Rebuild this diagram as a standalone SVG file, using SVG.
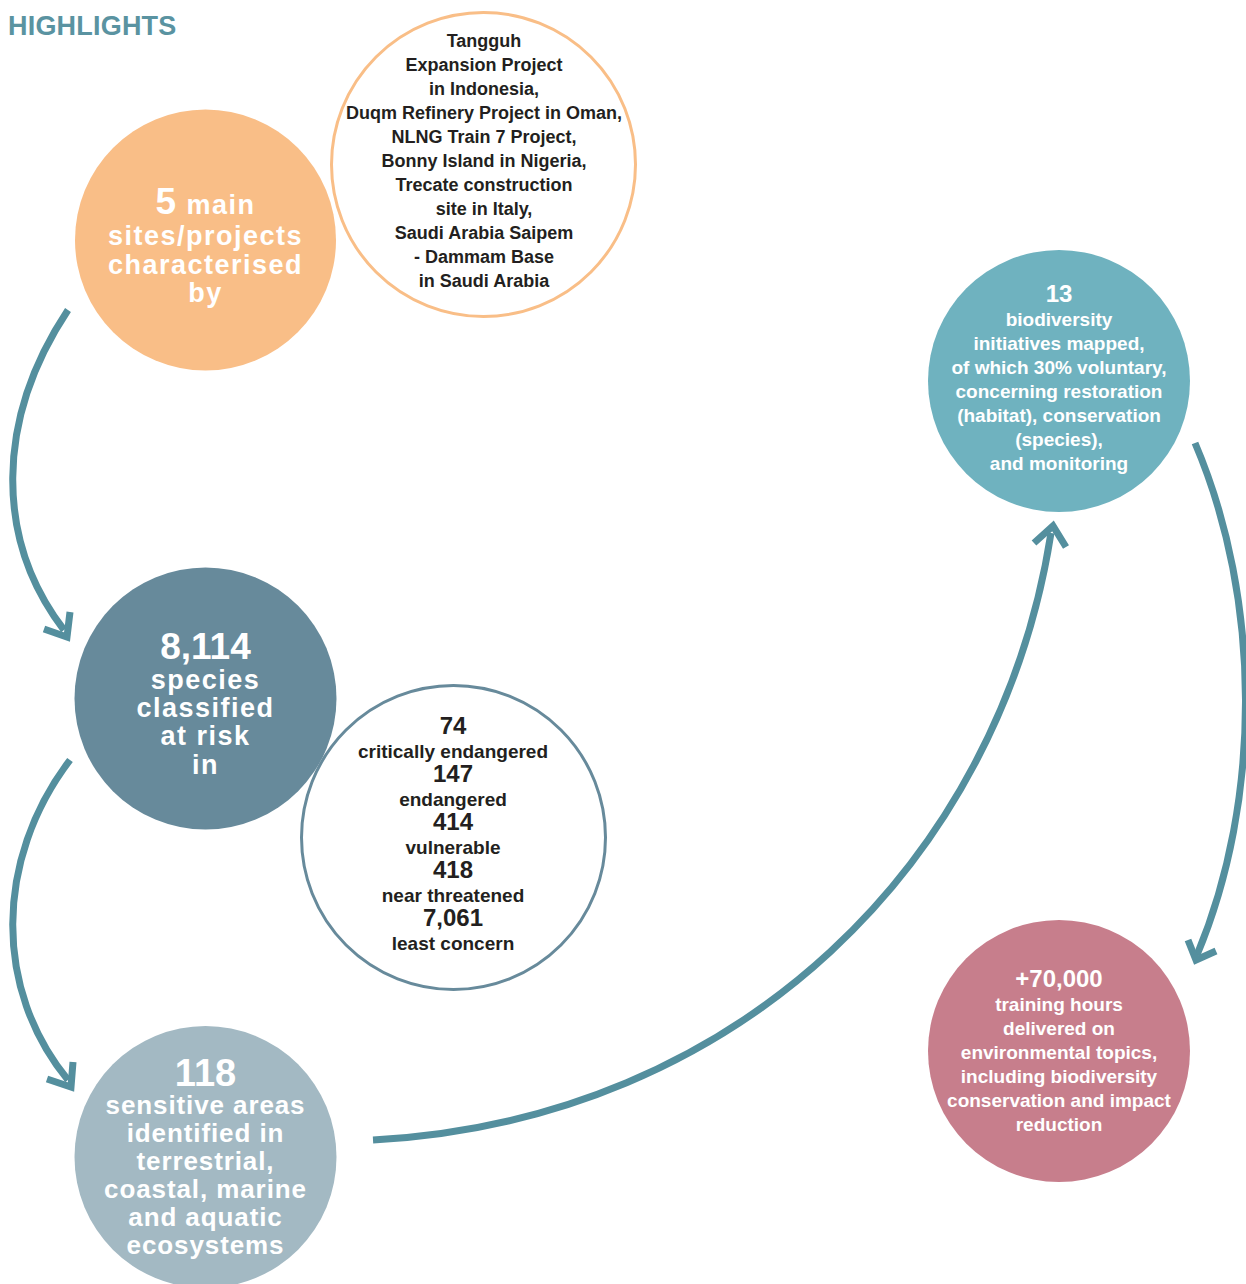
<svg xmlns="http://www.w3.org/2000/svg" width="1246" height="1284" viewBox="0 0 1246 1284">
<style>
text{font-family:"Liberation Sans",Arial,sans-serif;font-weight:bold;text-anchor:middle}
.title{font-size:27px;fill:#5A93A1;text-anchor:start;letter-spacing:0.2px}
.w{fill:#FFFFFF}
.k{fill:#231F20}
.big{font-size:37px}
.l27{font-size:27px;letter-spacing:1.5px}
.l26{font-size:26px;letter-spacing:0.9px}
.s19{font-size:19px}
.s18{font-size:18px}
.n24{font-size:24px}
.arrow{fill:none;stroke:#548F9E;stroke-width:7;stroke-linecap:butt;stroke-linejoin:miter}
</style>
<rect width="1246" height="1284" fill="#FFFFFF"/>
<text class="title" x="8" y="35">HIGHLIGHTS</text>

<g id="connectors">
<path class="arrow" d="M68,310 C-5,420 -5,540 64,630"/>
<polyline class="arrow" points="44,629 67,637 70,612"/>
<path class="arrow" d="M70,760 C-6,860 -6,990 68,1080"/>
<polyline class="arrow" points="47,1079 71,1087 73,1062"/>
<path class="arrow" d="M373,1140 C740,1120 1000,860 1051,533"/>
<polyline class="arrow" points="1034,543 1053,526 1066,547"/>
<path class="arrow" d="M1195,443 C1262,600 1262,800 1197,955"/>
<polyline class="arrow" points="1188,940 1196,960 1216,951"/>
</g>

<g id="node-sites">
<circle cx="205.5" cy="240" r="130.5" fill="#F9BE87"/>
<text class="w l27" x="205.5" y="214"><tspan class="big">5</tspan><tspan> main</tspan></text>
<text class="w l27" x="205.5" y="245">sites/projects</text>
<text class="w l27" x="205.5" y="274">characterised</text>
<text class="w l27" x="205.5" y="302">by</text>
</g>

<g id="node-projects">
<circle cx="483.5" cy="164.5" r="152" fill="#FFFFFF" stroke="#F9BE87" stroke-width="3"/>
<text class="k s18" x="484" y="47">Tangguh</text>
<text class="k s18" x="484" y="71">Expansion Project</text>
<text class="k s18" x="484" y="95">in Indonesia,</text>
<text class="k s18" x="484" y="119">Duqm Refinery Project in Oman,</text>
<text class="k s18" x="484" y="143">NLNG Train 7 Project,</text>
<text class="k s18" x="484" y="167">Bonny Island in Nigeria,</text>
<text class="k s18" x="484" y="191">Trecate construction</text>
<text class="k s18" x="484" y="215">site in Italy,</text>
<text class="k s18" x="484" y="239">Saudi Arabia Saipem</text>
<text class="k s18" x="484" y="263">- Dammam Base</text>
<text class="k s18" x="484" y="287">in Saudi Arabia</text>
</g>

<g id="node-initiatives">
<circle cx="1059" cy="381" r="131" fill="#6FB2BF"/>
<text class="w n24" x="1059" y="302">13</text>
<text class="w s19" x="1059" y="326">biodiversity</text>
<text class="w s19" x="1059" y="350">initiatives mapped,</text>
<text class="w s19" x="1059" y="374">of which 30% voluntary,</text>
<text class="w s19" x="1059" y="398">concerning restoration</text>
<text class="w s19" x="1059" y="422">(habitat), conservation</text>
<text class="w s19" x="1059" y="446">(species),</text>
<text class="w s19" x="1059" y="470">and monitoring</text>
</g>

<g id="node-species">
<circle cx="205.5" cy="698.5" r="131" fill="#678A9B"/>
<text class="w big" x="205.5" y="659">8,114</text>
<text class="w l27" x="205.5" y="689">species</text>
<text class="w l27" x="205.5" y="717">classified</text>
<text class="w l27" x="205.5" y="745">at risk</text>
<text class="w l27" x="205.5" y="774">in</text>
</g>

<g id="node-categories">
<circle cx="453.5" cy="837.5" r="152" fill="#FFFFFF" stroke="#678A9B" stroke-width="3"/>
<text class="k n24" x="453" y="734">74</text>
<text class="k s19" x="453" y="758">critically endangered</text>
<text class="k n24" x="453" y="782">147</text>
<text class="k s19" x="453" y="806">endangered</text>
<text class="k n24" x="453" y="830">414</text>
<text class="k s19" x="453" y="854">vulnerable</text>
<text class="k n24" x="453" y="878">418</text>
<text class="k s19" x="453" y="902">near threatened</text>
<text class="k n24" x="453" y="926">7,061</text>
<text class="k s19" x="453" y="950">least concern</text>
</g>

<g id="node-areas">
<circle cx="205.5" cy="1157" r="131" fill="#A3B9C3"/>
<text class="w" x="205.5" y="1086" style="font-size:38px">118</text>
<text class="w l26" x="205.5" y="1114">sensitive areas</text>
<text class="w l26" x="205.5" y="1142">identified in</text>
<text class="w l26" x="205.5" y="1170">terrestrial,</text>
<text class="w l26" x="205.5" y="1198">coastal, marine</text>
<text class="w l26" x="205.5" y="1226">and aquatic</text>
<text class="w l26" x="205.5" y="1254">ecosystems</text>
</g>

<g id="node-training">
<circle cx="1059" cy="1051" r="131" fill="#C77E8C"/>
<text class="w n24" x="1059" y="987">+70,000</text>
<text class="w s19" x="1059" y="1011">training hours</text>
<text class="w s19" x="1059" y="1035">delivered on</text>
<text class="w s19" x="1059" y="1059">environmental topics,</text>
<text class="w s19" x="1059" y="1083">including biodiversity</text>
<text class="w s19" x="1059" y="1107">conservation and impact</text>
<text class="w s19" x="1059" y="1131">reduction</text>
</g>
</svg>
